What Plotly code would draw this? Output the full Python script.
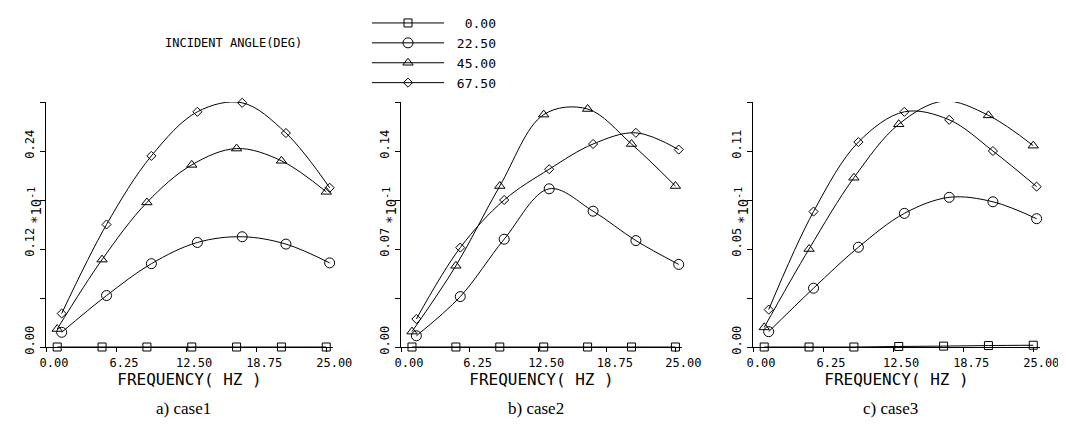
import plotly.graph_objects as go

# ---- data ----
FREQ_A = [1, 5, 9, 13, 17, 21, 25]            # squares / triangles
FREQ_B = [1.4, 5.4, 9.4, 13.5, 17.5, 21.4, 25.3]  # circles / diamonds
ANGLES = ["0.00", "22.50", "45.00", "67.50"]

case1_000 = [0, 0, 0, 0, 0, 0, 0]
case1_225 = [0.018, 0.063, 0.102, 0.128, 0.135, 0.126, 0.103]
case1_450 = [0.022, 0.107, 0.177, 0.223, 0.243, 0.228, 0.190]
case1_675 = [0.041, 0.150, 0.234, 0.288, 0.299, 0.262, 0.195]

case2_000 = [0, 0, 0, 0, 0, 0, 0]
case2_225 = [0.008, 0.036, 0.077, 0.113, 0.097, 0.076, 0.059]
case2_450 = [0.011, 0.058, 0.115, 0.166, 0.170, 0.145, 0.115]
case2_675 = [0.020, 0.071, 0.105, 0.127, 0.145, 0.153, 0.141]

case3_000 = [0, 0, 0, 0.0003, 0.0005, 0.0008, 0.001]
case3_225 = [0.0086, 0.033, 0.056, 0.075, 0.084, 0.0815, 0.072]
case3_450 = [0.011, 0.055, 0.095, 0.125, 0.138, 0.130, 0.113]
case3_675 = [0.021, 0.076, 0.115, 0.132, 0.1275, 0.110, 0.090]

X_TICKS = [0, 6.25, 12.5, 18.75, 25]
X_TICKTEXT = ["0.00", "6.25", "12.50", "18.75", "25.00"]

Y_TICKS = [
    [0, 0.06, 0.12, 0.18, 0.24, 0.30],
    [0, 0.035, 0.07, 0.105, 0.14, 0.175],
    [0, 0.0275, 0.055, 0.0825, 0.11, 0.1375],
]
Y_TICKTEXT = [
    ["0.00", "", "0.12", "", "0.24", ""],
    ["0.00", "", "0.07", "", "0.14", ""],
    ["0.00", "", "0.05", "", "0.11", ""],
]
CAPTIONS = ["a) case1", "b) case2", "c) case3"]

CASES = [
    [case1_000, case1_225, case1_450, case1_675],
    [case2_000, case2_225, case2_450, case2_675],
    [case3_000, case3_225, case3_450, case3_675],
]

# ---- styling ----
# the page body has an 8px margin, so the figure is made 8px smaller on each
# side and all reference pixel positions are converted with that offset
OFF = 8
W, H = 1066 - OFF, 433 - OFF
MONO = "DejaVu Sans Mono"
SYMBOLS = ["square-open", "circle-open", "triangle-up-open", "diamond-open"]
SIZES = [8, 10, 9, 7]
FREQS = [FREQ_A, FREQ_B, FREQ_A, FREQ_B]


def px(x):
    return (x - OFF) / W


def py(y):
    return 1 - (y - OFF) / H


# pixel geometry of the three panels (reference page coordinates)
X_PIX = [(46, 333), (401, 682), (753, 1040)]
Y_PIX = (102, 347)  # top, bottom
LEGEND_LABELS = ["\u00a0" * (6 - len(a)) + a for a in ANGLES]

fig = go.Figure()

for p, series in enumerate(CASES):
    xa = "x" if p == 0 else f"x{p+1}"
    ya = "y" if p == 0 else f"y{p+1}"
    for s, vals in enumerate(series):
        fig.add_trace(go.Scatter(
            x=FREQS[s], y=vals, xaxis=xa, yaxis=ya,
            mode="lines+markers",
            line=dict(color="black", width=1, shape="spline"),
            marker=dict(symbol=SYMBOLS[s], size=SIZES[s], color="black",
                        line=dict(width=1, color="black")),
            name=LEGEND_LABELS[s], showlegend=(p == 0),
            cliponaxis=False,
        ))

layout = dict(
    width=W, height=H,
    margin=dict(l=0, r=0, t=0, b=0, autoexpand=False),
    paper_bgcolor="white", plot_bgcolor="white",
    font=dict(family=MONO, size=12, color="black"),
    showlegend=True,
    legend=dict(x=px(367), y=py(8), xanchor="left", yanchor="top",
                font=dict(family=MONO, size=13, color="black"),
                itemwidth=72, tracegroupgap=0, bgcolor="rgba(0,0,0,0)"),
)

annotations = []
for p in range(3):
    sfx = "" if p == 0 else str(p + 1)
    x0, x1 = X_PIX[p]
    layout["xaxis" + sfx] = dict(
        domain=[px(x0), px(x1)], range=[0, 25.6],
        anchor="y" + sfx, automargin=False,
        showline=True, linecolor="black", linewidth=1,
        showgrid=False, zeroline=False,
        ticks="outside", ticklen=4, tickcolor="black",
        tickvals=X_TICKS, ticktext=X_TICKTEXT,
        tickfont=dict(family=MONO, size=12),
        ticklabelshift=8, ticklabelstandoff=1,
        ticklabeloverflow="allow",
        title=dict(text="FREQUENCY( HZ )", font=dict(family=MONO, size=16), standoff=2),
    )
    layout["yaxis" + sfx] = dict(
        domain=[py(Y_PIX[1]), py(Y_PIX[0])],
        range=[0, Y_TICKS[p][-1]],
        anchor="x" + sfx, automargin=False,
        showline=True, linecolor="black", linewidth=1,
        showgrid=False, zeroline=False,
        ticks="outside", ticklen=5, tickcolor="black",
        tickvals=Y_TICKS[p], ticktext=Y_TICKTEXT[p],
        tickangle=-90,
        tickfont=dict(family=MONO, size=12),
        ticklabelshift=-5, ticklabelstandoff=1,
        ticklabeloverflow="allow",
    )
    annotations.append(dict(
        text="*10<sup>-1</sup>", textangle=-90,
        xref="paper", yref="paper",
        x=px(x0 - 11), y=py(206), xanchor="center", yanchor="middle",
        showarrow=False, font=dict(family=MONO, size=14),
    ))
    annotations.append(dict(
        text=CAPTIONS[p], xref="paper", yref="paper",
        x=px((x0 + x1) / 2 - 6), y=py(408),
        xanchor="center", yanchor="middle", showarrow=False,
        font=dict(family="Liberation Serif", size=17),
    ))

annotations.append(dict(
    text="INCIDENT ANGLE(DEG)", xref="paper", yref="paper",
    x=px(163), y=py(43), xanchor="left", yanchor="middle",
    showarrow=False, font=dict(family=MONO, size=12),
))
layout["annotations"] = annotations

fig.update_layout(**layout)
fig.write_html("out.html")
